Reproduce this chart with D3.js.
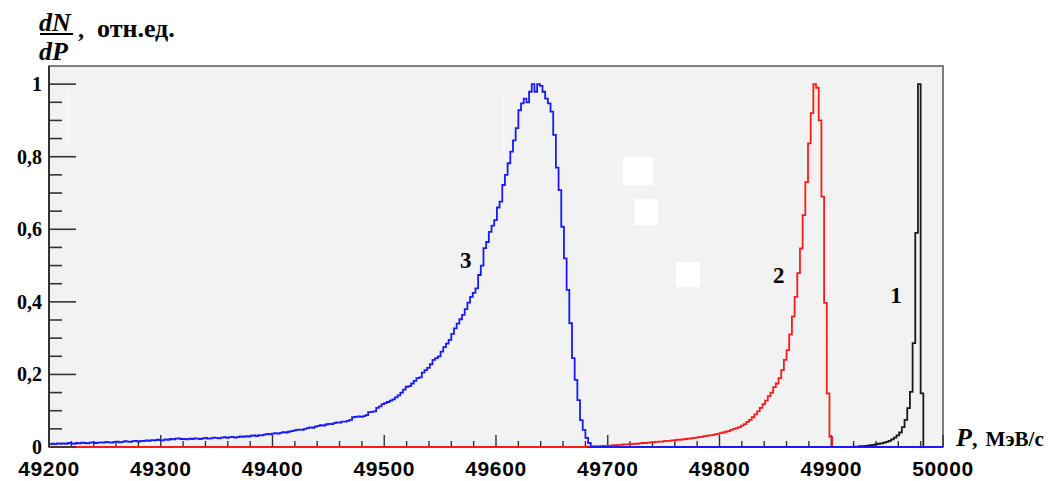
<!DOCTYPE html>
<html>
<head>
<meta charset="utf-8">
<script src="https://cdn.jsdelivr.net/npm/d3@7"></script>
<style>
  body { margin: 0; background: #fff; }
  svg { display: block; }
</style>
</head>
<body>
<div id="plot-container"></div>
<script>
// Histogram binning (MeV/c)
const binStart = 49200;
const binWidth = 2.4;
const xMin = 49200, xMax = 50000;

// Axis ticks
const xTicks = [49200, 49300, 49400, 49500, 49600, 49700, 49800, 49900, 50000];
const yTicks = [0, 0.2, 0.4, 0.6, 0.8, 1];
const yTickLabels = ["0", "0,2", "0,4", "0,6", "0,8", "1"];

// Curve 3 (blue), first bin index 0
const blueFirstBin = 0;
const blueValues = [
  0.008,0.009,0.008,0.010,0.009,0.010,0.009,0.011,0.010,0.009,
  0.011,0.010,0.012,0.011,0.010,0.012,0.013,0.011,0.012,0.013,
  0.012,0.014,0.013,0.012,0.014,0.015,0.013,0.014,0.016,0.015,
  0.014,0.016,0.017,0.015,0.017,0.016,0.018,0.017,0.019,0.018,
  0.020,0.019,0.018,0.021,0.020,0.022,0.021,0.023,0.024,0.022,
  0.022,0.021,0.023,0.022,0.024,0.023,0.022,0.024,0.025,0.023,
  0.024,0.026,0.025,0.024,0.026,0.027,0.025,0.027,0.028,0.026,
  0.027,0.029,0.028,0.030,0.029,0.031,0.032,0.030,0.033,0.032,
  0.034,0.036,0.035,0.037,0.038,0.037,0.039,0.041,0.040,0.042,
  0.044,0.045,0.047,0.048,0.047,0.050,0.052,0.054,0.053,0.056,
  0.058,0.060,0.059,0.062,0.064,0.063,0.066,0.068,0.067,0.070,
  0.070,0.072,0.075,0.082,0.083,0.084,0.083,0.085,0.088,0.096,
  0.097,0.098,0.108,0.112,0.118,0.121,0.124,0.128,0.131,0.137,
  0.142,0.150,0.158,0.166,0.168,0.175,0.182,0.190,0.192,0.205,
  0.212,0.218,0.228,0.240,0.245,0.250,0.263,0.275,0.285,0.295,
  0.312,0.327,0.340,0.352,0.364,0.380,0.398,0.414,0.425,0.437,
  0.474,0.500,0.548,0.565,0.593,0.610,0.625,0.660,0.676,0.722,
  0.750,0.782,0.814,0.845,0.879,0.928,0.947,0.960,0.950,0.979,
  1.000,0.979,1.000,0.995,0.979,0.960,0.947,0.924,0.860,0.770,
  0.708,0.607,0.520,0.433,0.341,0.245,0.185,0.129,0.074,0.047,
  0.025,0.011
];

// Curve 2 (red), first bin index 200
const redFirstBin = 200;
const redValues = [
  0.001,0.001,0.001,0.002,0.002,
  0.002,0.003,0.003,0.004,0.004,0.005,0.005,0.006,0.006,0.007,
  0.007,0.008,0.008,0.009,0.009,0.010,0.011,0.011,0.012,0.013,
  0.013,0.014,0.015,0.015,0.016,0.017,0.017,0.018,0.019,0.020,0.020,0.021,0.022,0.023,
  0.024,0.025,0.026,0.027,0.028,0.030,0.031,0.032,0.033,0.035,0.036,
  0.038,0.040,0.042,0.044,0.047,0.050,0.052,0.055,0.059,0.063,
  0.069,0.075,0.082,0.090,0.098,0.108,0.118,0.128,0.140,0.150,
  0.165,0.175,0.190,0.212,0.240,0.267,0.310,0.360,0.414,0.479,
  0.547,0.639,0.730,0.837,0.920,1.000,0.990,0.900,0.690,0.397,
  0.148,0.028
];

// Curve 1 (black), first bin index 300
const blackFirstBin = 300;
const blackValues = [
  0.001,0.001,0.002,0.002,0.003,0.004,0.005,0.006,0.007,0.009,0.010,0.012,
  0.014,0.017,0.021,0.026,0.032,0.040,0.055,0.075,0.107,0.152,0.286,0.590,1.000,0.148
];

const W = 1056, H = 481;
const margin = { top: 66, right: 113, bottom: 34, left: 49 };
const width = W - margin.left - margin.right;
const height = H - margin.top - margin.bottom;

const svg = d3.select("#plot-container")
    .append("svg")
    .attr("width", W)
    .attr("height", H);

const x = d3.scaleLinear().domain([xMin, xMax]).range([margin.left, margin.left + width]);
const y = d3.scaleLinear().domain([0, 1.05]).range([margin.top + height, margin.top]);

// plot background + frame
svg.append("rect")
    .attr("x", x(xMin)).attr("y", y(1.05))
    .attr("width", x(xMax) - x(xMin)).attr("height", y(0) - y(1.05))
    .attr("fill", "#f2f2f2")
    .attr("stroke", "#555").attr("stroke-width", 1.5);

svg.append("clipPath").attr("id", "clip")
    .append("rect")
    .attr("x", x(xMin)).attr("y", y(1.05) - 2)
    .attr("width", x(xMax) - x(xMin)).attr("height", y(0) - y(1.05) + 4);

// white patches left in the original picture (data units)
const patches = [[49713.6, 49740.5, 0.722, 0.799], [49723.5, 49745, 0.612, 0.683], [49761, 49782.6, 0.441, 0.51]];
svg.append("g").selectAll("rect")
    .data(patches)
    .enter().append("rect")
    .attr("x", d => x(d[0])).attr("width", d => x(d[1]) - x(d[0]))
    .attr("y", d => y(d[3])).attr("height", d => y(d[2]) - y(d[3]))
    .attr("fill", "#fff");
svg.append("g").selectAll("line")
    .data([[49217, 0.827, 0.978], [49607, 0.80, 0.965]])
    .enter().append("line")
    .attr("x1", d => x(d[0])).attr("x2", d => x(d[0]))
    .attr("y1", d => y(d[1])).attr("y2", d => y(d[2]))
    .attr("stroke", "#fff").attr("stroke-width", 1);

// x axis ticks (drawn under the curves)
const xAxis = svg.append("g").attr("stroke", "#333").attr("stroke-width", 1.4);
d3.range(0, 41).forEach(k => {
  const v = xMin + k * 20;
  const major = k % 5 === 0;
  xAxis.append("line")
      .attr("x1", x(v)).attr("x2", x(v))
      .attr("y1", y(0)).attr("y2", y(0) - (major ? 12 : 6));
});

// full-range bin table, zeros outside the given values
const nBins = Math.ceil((xMax - binStart) / binWidth);
function binTable(first, values) {
  const pts = [];
  for (let i = 0; i < nBins; i++) {
    const v = (i >= first && i < first + values.length) ? values[i - first] : 0;
    pts.push([binStart + i * binWidth, v]);
  }
  pts.push([binStart + nBins * binWidth, pts[pts.length - 1][1]]);
  return pts;
}

const step = d3.line()
    .x(d => x(d[0]))
    .y(d => y(d[1]))
    .curve(d3.curveStepAfter);

const series = [
  { pts: binTable(blackFirstBin, blackValues), color: "#1a1a1a" },
  { pts: binTable(redFirstBin, redValues), color: "#ff1a1a" },
  { pts: binTable(blueFirstBin, blueValues), color: "#1a1aff" }
];

const curves = svg.append("g").attr("clip-path", "url(#clip)");
series.forEach(s => {
  curves.append("path")
      .attr("d", step(s.pts))
      .attr("fill", "none")
      .attr("stroke", s.color)
      .attr("stroke-width", 1.8);
});

// y axis
const yAxis = svg.append("g").attr("stroke", "#333").attr("stroke-width", 1.6);
yAxis.append("line")
    .attr("x1", x(xMin)).attr("x2", x(xMin))
    .attr("y1", y(0)).attr("y2", y(1.05)).attr("stroke-width", 2);
d3.range(0, 21).forEach(k => {
  const v = k * 0.05;
  const major = k % 4 === 0;
  yAxis.append("line")
      .attr("x1", x(xMin)).attr("x2", x(xMin) + (major ? 27 : 13))
      .attr("y1", y(v)).attr("y2", y(v));
});
svg.append("g").selectAll("text")
    .data(yTicks)
    .enter().append("text")
    .attr("x", 42).attr("y", d => y(d))
    .attr("dy", "0.35em")
    .attr("text-anchor", "end")
    .attr("font-family", "Liberation Serif, serif")
    .attr("font-weight", "bold")
    .attr("font-size", 20)
    .text((d, i) => yTickLabels[i]);

svg.append("g").selectAll("text")
    .data(xTicks)
    .enter().append("text")
    .attr("x", d => x(d)).attr("y", 476)
    .attr("text-anchor", "middle")
    .attr("font-family", "Liberation Sans, Arial, sans-serif")
    .attr("font-weight", "bold")
    .attr("font-size", 21)
    .attr("letter-spacing", 0.6)
    .text(d => d);

// axis titles
const xt = svg.append("text")
    .attr("x", 956).attr("y", 446)
    .attr("font-family", "Liberation Serif, serif")
    .attr("font-weight", "bold");
xt.append("tspan").attr("font-style", "italic").attr("font-size", 26).text("P");
xt.append("tspan").attr("font-size", 22).text(",");
xt.append("tspan").attr("font-size", 21).attr("dx", 8).text("МэВ/с");

const yt = svg.append("g")
    .attr("font-family", "Liberation Serif, serif")
    .attr("font-weight", "bold");
yt.append("text").attr("x", 39).attr("y", 31)
    .attr("font-style", "italic").attr("font-size", 26).text("dN");
yt.append("line").attr("x1", 40).attr("x2", 73).attr("y1", 34).attr("y2", 34)
    .attr("stroke", "#000").attr("stroke-width", 2);
yt.append("text").attr("x", 39).attr("y", 60)
    .attr("font-style", "italic").attr("font-size", 26).text("dP");
yt.append("text").attr("x", 78).attr("y", 37).attr("font-size", 24).text(",");
yt.append("text").attr("x", 97).attr("y", 37).attr("font-size", 26).text("отн.ед.");

// curve numbers
const curveLabels = [["3", 49573, 0.515], ["2", 49853, 0.474], ["1", 49958, 0.419]];
svg.append("g").selectAll("text")
    .data(curveLabels)
    .enter().append("text")
    .attr("x", d => x(d[1])).attr("y", d => y(d[2]))
    .attr("dy", "0.35em")
    .attr("text-anchor", "middle")
    .attr("font-family", "Liberation Serif, serif")
    .attr("font-weight", "bold")
    .attr("font-size", 23)
    .text(d => d[0]);
</script>
</body>
</html>
